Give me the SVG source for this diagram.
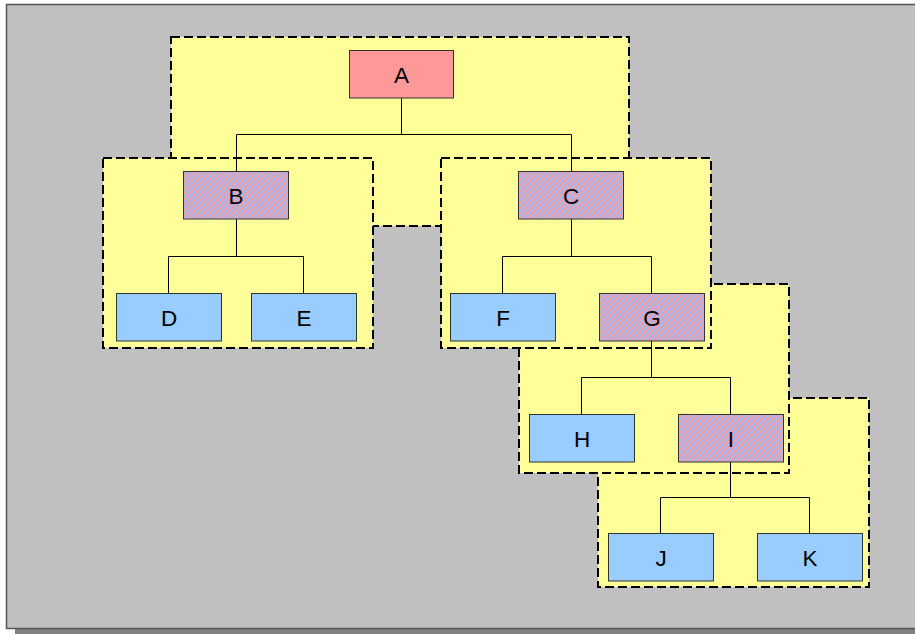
<svg xmlns="http://www.w3.org/2000/svg" width="915" height="634" viewBox="0 0 915 634">
<defs>
<pattern id="hatch" patternUnits="userSpaceOnUse" width="4" height="10" patternTransform="rotate(45)">
<rect width="4" height="10" fill="#ff9999"/>
<rect width="2" height="10" fill="#99bbff"/>
</pattern>
<style>
.grp{fill:#ffff99;stroke:#000;stroke-width:2;stroke-dasharray:9 4}
.node{stroke:#333;stroke-width:1}
.red{fill:#ff9999}
.blue{fill:#99ccff}
.hat{fill:url(#hatch)}
.lbl{font-family:"Liberation Sans",Arial,sans-serif;font-size:22.5px;fill:#000;text-anchor:middle}
.conn{fill:none;stroke:#000;stroke-width:1}
</style>
</defs>
<rect x="15" y="13" width="910" height="630" fill="#808080"/>
<rect x="6.5" y="4.5" width="920" height="624" fill="#c0c0c0" stroke="#555" stroke-width="1.5"/>
<g id="group-A"><rect class="grp" x="171" y="37" width="458" height="189"/></g>
<g id="group-B"><rect class="grp" x="103" y="158" width="270" height="190"/></g>
<g id="group-I"><rect class="grp" x="598" y="398" width="271" height="189"/></g>
<g id="group-G"><rect class="grp" x="519" y="284" width="270" height="189"/></g>
<g id="group-C"><rect class="grp" x="441" y="158" width="270" height="190"/></g>
<g id="connectors">
<path class="conn" d="M401.5 98V134.5M236.5 134.5H571.5M236.5 134.5V171.5M571.5 134.5V171.5"/>
<path class="conn" d="M236.5 219V256.5M168.5 256.5H303.5M168.5 256.5V293.5M303.5 256.5V293.5"/>
<path class="conn" d="M571.5 219V256.5M502.5 256.5H651.5M502.5 256.5V293.5M651.5 256.5V293.5"/>
<path class="conn" d="M651.5 341V377.5M581.5 377.5H730.5M581.5 377.5V414.5M730.5 377.5V414.5"/>
<path class="conn" d="M730.5 462V497.5M660.5 497.5H809.5M660.5 497.5V533.5M809.5 497.5V533.5"/>
</g>
<g id="node-A"><rect class="node red" x="349.5" y="50.5" width="104" height="47.5"/><text class="lbl" x="401.5" y="83">A</text></g>
<g id="node-B"><rect class="node hat" x="183.5" y="171.5" width="105" height="47.5"/><text class="lbl" x="236" y="203.5">B</text></g>
<g id="node-C"><rect class="node hat" x="518.5" y="171.5" width="105" height="47.5"/><text class="lbl" x="571" y="203.5">C</text></g>
<g id="node-D"><rect class="node blue" x="116.5" y="293.5" width="105" height="47.5"/><text class="lbl" x="169" y="325.5">D</text></g>
<g id="node-E"><rect class="node blue" x="251.5" y="293.5" width="105" height="47.5"/><text class="lbl" x="304" y="325.5">E</text></g>
<g id="node-F"><rect class="node blue" x="450.5" y="293.5" width="105" height="47.5"/><text class="lbl" x="503" y="325.5">F</text></g>
<g id="node-G"><rect class="node hat" x="599.5" y="293.5" width="105" height="47.5"/><text class="lbl" x="652" y="325.5">G</text></g>
<g id="node-H"><rect class="node blue" x="529.5" y="414.5" width="105" height="47.5"/><text class="lbl" x="582" y="446.5">H</text></g>
<g id="node-I"><rect class="node hat" x="678.5" y="414.5" width="105" height="47.5"/><text class="lbl" x="731" y="446.5">I</text></g>
<g id="node-J"><rect class="node blue" x="608.5" y="533.5" width="105" height="47.5"/><text class="lbl" x="661" y="565.5">J</text></g>
<g id="node-K"><rect class="node blue" x="757.5" y="533.5" width="105" height="47.5"/><text class="lbl" x="810" y="565.5">K</text></g>
</svg>
